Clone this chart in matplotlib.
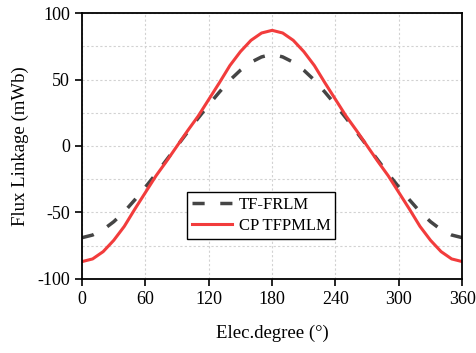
import numpy as np
import matplotlib
matplotlib.use("Agg")
import matplotlib.pyplot as plt
from matplotlib.ticker import MultipleLocator

plt.rcParams['font.family'] = ['Liberation Serif', 'DejaVu Serif']
plt.rcParams['axes.unicode_minus'] = False

# electrical angle, degrees
angle = [0, 10, 20, 30, 40, 50, 60, 70, 80, 90, 100, 110, 120, 130, 140, 150, 160, 170, 180,
         190, 200, 210, 220, 230, 240, 250, 260, 270, 280, 290, 300, 310, 320, 330, 340, 350, 360]

# flux linkage, mWb
tf_frlm = [-69, -67, -63, -57, -49.5, -40.5, -31, -21, -10.5, 0, 10.5, 21, 31, 40.5, 49.5, 57, 63, 67, 69,
           67, 63, 57, 49.5, 40.5, 31, 21, 10.5, 0, -10.5, -21, -31, -40.5, -49.5, -57, -63, -67, -69]
cp_tfpmlm = [-87, -85, -79.5, -71, -60.5, -47.5, -35, -22.5, -11.5, 0, 11.5, 22.5, 35, 47.5, 60.5, 71, 79.5, 85, 87,
             85, 79.5, 71, 60.5, 47.5, 35, 22.5, 11.5, 0, -11.5, -22.5, -35, -47.5, -60.5, -71, -79.5, -85, -87]

fig = plt.figure(figsize=(4.77, 3.53), dpi=100)
ax = fig.add_axes([0.172, 0.21, 0.797, 0.753])

ax.plot(angle, tf_frlm, color='#454545', lw=2.5, dashes=(3.5, 4.5), label='TF-FRLM')
ax.plot(angle, cp_tfpmlm, color='#f23c3c', lw=2.2, label='CP TFPMLM')

ax.set_xlim(0, 360)
ax.set_ylim(-100, 100)
ax.xaxis.set_major_locator(MultipleLocator(60))
ax.yaxis.set_major_locator(MultipleLocator(50))
ax.yaxis.set_minor_locator(MultipleLocator(25))
ax.tick_params(which='minor', length=0)
ax.tick_params(which='major', direction='out', length=5, width=1.2, labelsize=13)

ax.grid(True, which='major', color='#d2d2d2', ls=(0, (2, 2)), lw=0.8)
ax.grid(True, which='minor', axis='y', color='#d2d2d2', ls=(0, (2, 2)), lw=0.8)
ax.set_axisbelow(True)

for s in ax.spines.values():
    s.set_linewidth(1.3)

ax.set_xlabel('Elec.degree (°)', fontsize=13.5, labelpad=12)
ax.set_ylabel('Flux Linkage (mWb)', fontsize=13.5, labelpad=6)

leg = ax.legend(loc='lower left', bbox_to_anchor=(0.276, 0.15), fontsize=12,
                fancybox=False, framealpha=1, edgecolor='black',
                handlelength=2.4, handletextpad=0.4, borderpad=0.3,
                labelspacing=0.3, borderaxespad=0)
leg.get_frame().set_linewidth(1.0)

fig.savefig('out.png', dpi=100)
